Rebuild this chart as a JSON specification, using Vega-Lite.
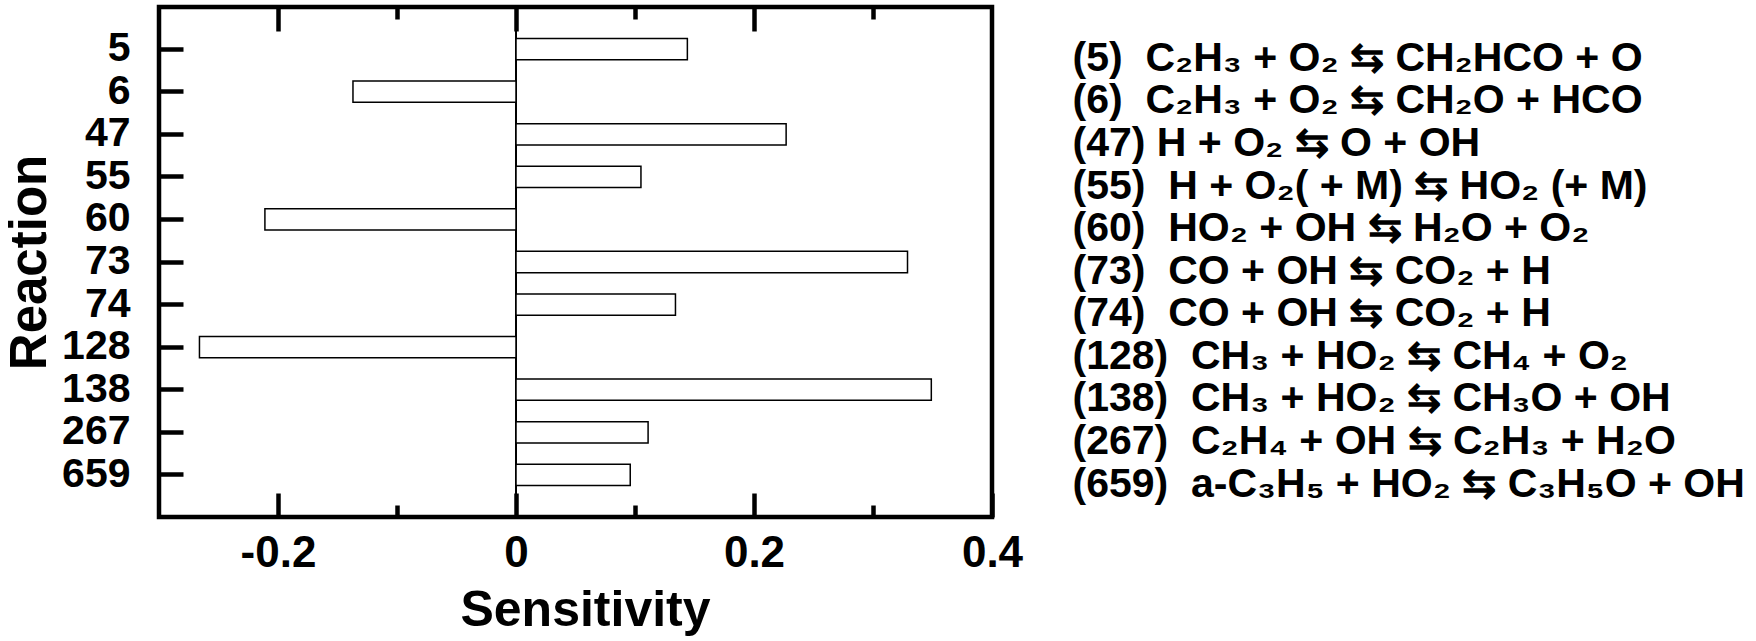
{
  "$schema": "https://vega.github.io/schema/vega-lite/v6.json",
  "autosize": {"type": "none"},
  "padding": {"left": 159, "top": 7, "right": 764, "bottom": 124},
  "width": 833,
  "height": 510,
  "background": "white",
  "config": {
    "view": {"stroke": "black", "strokeWidth": 4.5},
    "font": "Liberation Sans",
    "axis": {
      "domain": false, "grid": false,
      "labelFont": "Liberation Sans", "labelFontWeight": "bold", "labelColor": "black",
      "titleFont": "Liberation Sans", "titleFontWeight": "bold", "titleColor": "black",
      "tickColor": "black", "tickWidth": 4.5
    }
  },
  "data": {"values": [
    {"reaction": "5", "sensitivity": 0.144, "equation": "(5)\u00a0 C₂H₃ + O₂ ⇆ CH₂HCO + O"},
    {"reaction": "6", "sensitivity": -0.137, "equation": "(6)\u00a0 C₂H₃ + O₂ ⇆ CH₂O + HCO"},
    {"reaction": "47", "sensitivity": 0.227, "equation": "(47) H + O₂ ⇆ O + OH"},
    {"reaction": "55", "sensitivity": 0.105, "equation": "(55)\u00a0 H + O₂( + M) ⇆ HO₂ (+ M)"},
    {"reaction": "60", "sensitivity": -0.211, "equation": "(60)\u00a0 HO₂ + OH ⇆ H₂O + O₂"},
    {"reaction": "73", "sensitivity": 0.329, "equation": "(73)\u00a0 CO + OH ⇆ CO₂ + H"},
    {"reaction": "74", "sensitivity": 0.134, "equation": "(74)\u00a0 CO + OH ⇆ CO₂ + H"},
    {"reaction": "128", "sensitivity": -0.266, "equation": "(128)\u00a0 CH₃ + HO₂ ⇆ CH₄ + O₂"},
    {"reaction": "138", "sensitivity": 0.349, "equation": "(138)\u00a0 CH₃ + HO₂ ⇆ CH₃O + OH"},
    {"reaction": "267", "sensitivity": 0.111, "equation": "(267)\u00a0 C₂H₄ + OH ⇆ C₂H₃ + H₂O"},
    {"reaction": "659", "sensitivity": 0.096, "equation": "(659)\u00a0 a-C₃H₅ + HO₂ ⇆ C₃H₅O + OH"}
  ]},
  "resolve": {"scale": {"y": "independent"}, "axis": {"x": "independent", "y": "independent"}},
  "layer": [
    {
      "mark": {"type": "rule", "color": "black", "strokeWidth": 1.5},
      "encoding": {"x": {"datum": 0, "type": "quantitative",
        "axis": {"orient": "bottom", "values": [-0.1, 0.1, 0.3], "labels": false, "title": null, "tickSize": -12}}}
    },
    {
      "mark": {"type": "rule", "color": "black", "strokeWidth": 1.5},
      "encoding": {"x": {"datum": 0, "type": "quantitative",
        "axis": {"orient": "top", "values": [-0.2, 0, 0.2], "labels": false, "title": null, "tickSize": -24}}}
    },
    {
      "mark": {"type": "rule", "color": "black", "strokeWidth": 1.5},
      "encoding": {"x": {"datum": 0, "type": "quantitative",
        "axis": {"orient": "top", "values": [-0.1, 0.1, 0.3], "labels": false, "title": null, "tickSize": -12}}}
    },
    {
      "mark": {"type": "bar", "fill": "white", "stroke": "black", "strokeWidth": 1.5},
      "encoding": {
        "y": {"field": "reaction", "type": "nominal", "sort": null,
          "scale": {"paddingInner": 0.5, "paddingOuter": 0.74},
          "axis": {"orient": "left", "title": "Reaction", "titleFontSize": 51, "titlePadding": 5,
            "labelFontSize": 41, "tickSize": -24, "labelPadding": 53, "labelAngle": 0, "labelOverlap": false}},
        "x": {"field": "sensitivity", "type": "quantitative",
          "scale": {"domain": [-0.3, 0.4], "nice": false},
          "axis": {"orient": "bottom", "values": [-0.2, 0, 0.2, 0.4], "format": ".1~f",
            "labelExpr": "replace(datum.label, '\u2212', '-')",
            "tickSize": -24, "labelFontSize": 44, "labelPadding": 38, "labelFlush": false, "labelOverlap": false,
            "title": "Sensitivity", "titleFontSize": 50, "titlePadding": 10, "titleX": 426}}
      }
    },
    {
      "mark": {"type": "text", "text": ""},
      "encoding": {
        "y": {"field": "equation", "type": "nominal", "sort": null,
          "scale": {"type": "point", "padding": 0.99, "align": 0.61},
          "axis": {"orient": "right", "title": null, "ticks": false, "labelFontSize": 41,
            "labelPadding": 80, "labelLimit": 2000, "labelAlign": "left", "labelOverlap": false}}
      }
    }
  ]
}
